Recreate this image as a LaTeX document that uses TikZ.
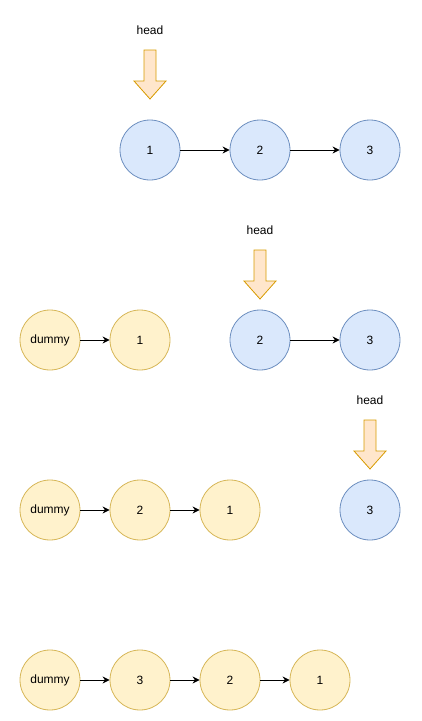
\documentclass[tikz,border=0pt]{standalone}
\usepackage{fontspec}
\setmainfont{Liberation Sans}
\usetikzlibrary{arrows.meta}

\definecolor{blueFill}{HTML}{DAE8FC}
\definecolor{blueLine}{HTML}{6C8EBF}
\definecolor{yellowFill}{HTML}{FFF2CC}
\definecolor{yellowLine}{HTML}{D6B656}
\definecolor{orangeFill}{HTML}{FFE6CC}
\definecolor{orangeLine}{HTML}{D79B00}

\tikzset{
    listnode/.style={circle, minimum size=60pt, inner sep=0pt, line width=0.8pt, font=\fontsize{12}{14}\selectfont},
    oldnode/.style={listnode, draw=blueLine, fill=blueFill},
    newnode/.style={listnode, draw=yellowLine, fill=yellowFill},
    link/.style={-{Stealth[length=7pt, width=7pt]}, line width=0.9pt},
    headarrow/.style={draw=orangeLine, fill=orangeFill, line width=0.8pt},
    headlabel/.style={font=\fontsize{12}{14}\selectfont}
}

\begin{document}
\begin{tikzpicture}[x=1pt, y=-1pt]

    \useasboundingbox (0,0) rectangle (421,721);

    % Step 1: original list
    \node[headlabel] (head1) at (150,30) {head};
    \node[oldnode] (a1) at (150,150) {1};
    \node[oldnode] (a2) at (260,150) {2};
    \node[oldnode] (a3) at (370,150) {3};
    \draw[link] (a1) -- (a2);
    \draw[link] (a2) -- (a3);

    % Step 2
    \node[headlabel] (head2) at (260,230) {head};
    \node[newnode] (b0) at (50,340) {dummy};
    \node[newnode] (b1) at (140,340) {1};
    \node[oldnode] (b2) at (260,340) {2};
    \node[oldnode] (b3) at (370,340) {3};
    \draw[link] (b0) -- (b1);
    \draw[link] (b2) -- (b3);

    % Step 3
    \node[headlabel] (head3) at (370,400) {head};
    \node[newnode] (c0) at (50,510) {dummy};
    \node[newnode] (c2) at (140,510) {2};
    \node[newnode] (c1) at (230,510) {1};
    \node[oldnode] (c3) at (370,510) {3};
    \draw[link] (c0) -- (c2);
    \draw[link] (c2) -- (c1);

    % Step 4: reversed list
    \node[newnode] (d0) at (50,680) {dummy};
    \node[newnode] (d3) at (140,680) {3};
    \node[newnode] (d2) at (230,680) {2};
    \node[newnode] (d1) at (320,680) {1};
    \draw[link] (d0) -- (d3);
    \draw[link] (d3) -- (d2);
    \draw[link] (d2) -- (d1);

    % Head pointers
    \foreach \hx/\hy in {150/50, 260/250, 370/420}
        \draw[headarrow, shift={(\hx,\hy)}]
            (-6,0) -- (6,0) -- (6,31) -- (16,31) -- (0,49)
            -- (-16,31) -- (-6,31) -- cycle;

\end{tikzpicture}
\end{document}
